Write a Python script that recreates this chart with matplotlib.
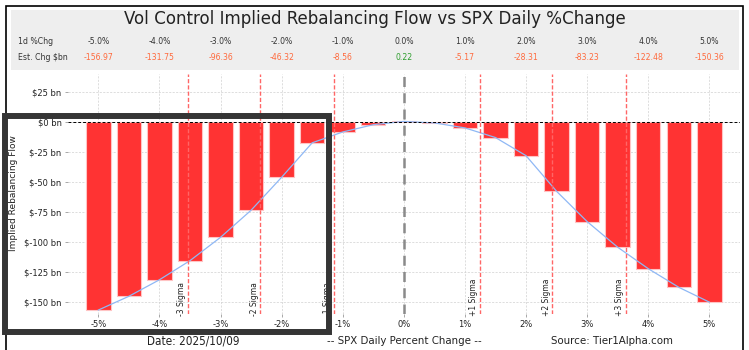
import matplotlib
matplotlib.use("Agg")
import matplotlib.pyplot as plt
from matplotlib.patches import Rectangle

W, H = 749, 350

# data
pct_chg = [-5.0, -4.5, -4.0, -3.5, -3.0, -2.5, -2.0, -1.5, -1.0, -0.5, 0.0,
           0.5, 1.0, 1.5, 2.0, 2.5, 3.0, 3.5, 4.0, 4.5, 5.0]
flow_bn = [-156.97, -145.5, -131.75, -115.8, -96.36, -73.8, -46.32, -17.6, -8.56, -2.5, 0.22,
           -1.0, -5.17, -13.2, -28.31, -58.0, -83.23, -104.6, -122.48, -138.0, -150.36]

table_pct = [-5.0, -4.0, -3.0, -2.0, -1.0, 0.0, 1.0, 2.0, 3.0, 4.0, 5.0]
table_est = [-156.97, -131.75, -96.36, -46.32, -8.56, 0.22, -5.17, -28.31, -83.23, -122.48, -150.36]

sigma_pos = [-3.54, -2.35, -1.15, 1.24, 2.43, 3.63]
sigma_lbl = ["-3 Sigma", "-2 Sigma", "-1 Sigma", "+1 Sigma", "+2 Sigma", "+3 Sigma"]

y_ticks = [25, 0, -25, -50, -75, -100, -125, -150]
x_ticks = [-5, -4, -3, -2, -1, 0, 1, 2, 3, 4, 5]

narrow = dict(family="DejaVu Sans", stretch="condensed")


def fx(px):
    return px / W


def fy(py):
    return 1 - py / H


fig = plt.figure(figsize=(W / 100, H / 100), dpi=100)
fig.patch.set_facecolor("white")

# header panel
fig.add_artist(Rectangle((fx(11), fy(70)), fx(739) - fx(11), fy(10) - fy(70),
                         transform=fig.transFigure, facecolor="#eeeeee",
                         edgecolor="none", zorder=0))
# outer border
fig.add_artist(Rectangle((fx(6), fy(360)), fx(743) - fx(6), fy(6) - fy(360),
                         transform=fig.transFigure, facecolor="none",
                         edgecolor="black", lw=1.2, zorder=5))

ax = fig.add_axes([fx(67.75), fy(313.7), fx(739.9) - fx(67.75), fy(73.7) - fy(313.7)])
ax.set_facecolor("white")

ax.bar(pct_chg, flow_bn, width=0.4, color="#ff3333", edgecolor="#ffc4c4",
       linewidth=0.8, zorder=2)
ax.plot(pct_chg, flow_bn, color="#8fb8f5", lw=0.9, zorder=3)

ax.axhline(0, color="black", lw=0.7, ls=(0, (3, 2)), zorder=4)
ax.axvline(0, color="#8a8a8a", lw=1.8, ls=(0, (4, 2.5)), zorder=4)

for xp, lbl in zip(sigma_pos, sigma_lbl):
    ax.axvline(xp, color="#ff6666", lw=1.0, ls=(0, (3, 1.5)), zorder=4)
    ax.text(xp - 0.02, -162, lbl, rotation=90, ha="right", va="bottom",
            fontsize=5.5, color="#222222", zorder=5, clip_on=False)

ax.set_xlim(-5.5, 5.5)
ax.set_ylim(-160, 40)
ax.set_xticks(x_ticks)
ax.set_xticklabels([f"{v}%" for v in x_ticks])
ax.set_yticks(y_ticks)
ax.set_yticklabels([f"${v} bn" for v in y_ticks])
ax.tick_params(labelsize=6, length=2.5, width=0.6, color="#999999",
               labelcolor="#222222", pad=2)
ax.grid(True, color="#d0d0d0", lw=0.5, ls=(0, (3, 2)), zorder=0)
ax.set_axisbelow(True)
for s in ax.spines.values():
    s.set_visible(False)

fig.text(fx(14), fy(193), "Implied Rebalancing Flow", rotation=90,
         ha="center", va="center", fontsize=6.5, color="#222222")

# title and table
fig.text(0.5, fy(19), "Vol Control Implied Rebalancing Flow vs SPX Daily %Change",
         ha="center", va="center", fontsize=13.3, color="#222222", **narrow)
fig.text(fx(18), fy(41), "1d %Chg", ha="left", va="center", fontsize=6.2,
         color="#333333", **narrow)
fig.text(fx(18), fy(57), "Est. Chg $bn", ha="left", va="center", fontsize=6.2,
         color="#333333", **narrow)
for p, v in zip(table_pct, table_est):
    xpix = ax.transData.transform((p, 0))[0]
    fig.text(xpix / W, fy(41), f"{p:.1f}%", ha="center", va="center",
             fontsize=6.2, color="#333333", **narrow)
    fig.text(xpix / W, fy(57), f"{v:.2f}", ha="center", va="center",
             fontsize=6.2, color="#2e9e2e" if v > 0 else "#ff6a3d", **narrow)

# footer
fig.text(fx(193), fy(341), "Date: 2025/10/09", ha="center", va="center",
         fontsize=8.4, color="#222222", **narrow)
fig.text(fx(404), fy(341), "-- SPX Daily Percent Change --", ha="center",
         va="center", fontsize=8.2, color="#222222", **narrow)
fig.text(fx(612), fy(341), "Source: Tier1Alpha.com", ha="center", va="center",
         fontsize=8.2, color="#222222", **narrow)

# dark highlight frame
fig.add_artist(Rectangle((fx(4.5), fy(331.5)), fx(329) - fx(4.5), fy(115.7) - fy(331.5),
                         transform=fig.transFigure, facecolor="none",
                         edgecolor="#353535", lw=4.3, zorder=10))

fig.savefig("out.png", dpi=100)
